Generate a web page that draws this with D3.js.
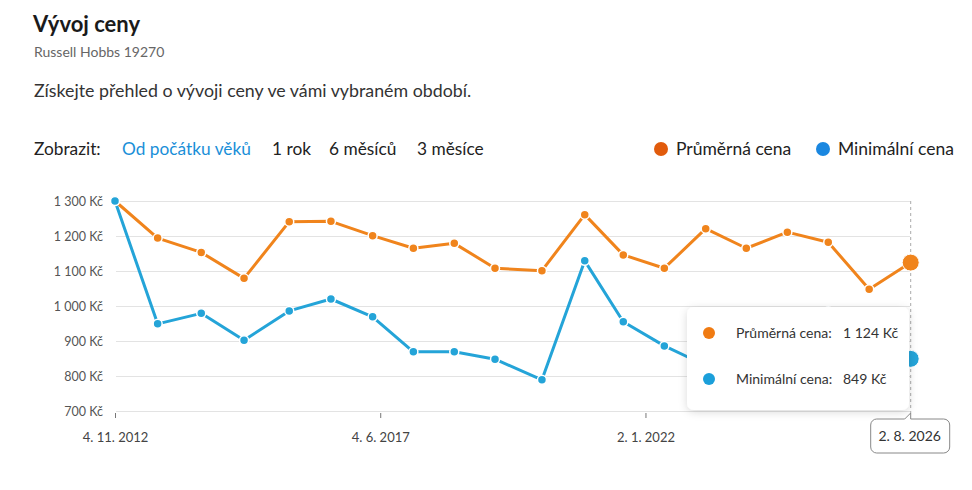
<!DOCTYPE html>
<html>
<head>
<meta charset="utf-8">
<script src="https://cdn.jsdelivr.net/npm/d3@7"></script>
<style>
  body { margin: 0; background: #fff; }
  svg text { font-family: "Source Sans Pro", Lato, "Noto Sans", sans-serif; }
</style>
</head>
<body>
<svg id="chart" width="972" height="490"></svg>
<script>
// price history
const dates = ["2012-11-04","2013-07-31","2014-05-02","2015-01-27","2015-11-08","2016-07-28",
  "2017-04-17","2017-12-30","2018-09-14","2019-05-29","2020-03-20","2020-12-15","2021-08-15",
  "2022-05-01","2023-01-17","2023-09-30","2024-06-15","2025-02-28","2025-11-13","2026-08-02"];
const avgPrice = [1300,1194,1153,1079,1241,1242,1201,1165,1179,1108,1101,1261,1146,1108,1221,1165,1211,1182,1048,1124];
const minPrice = [1300,949,979,902,986,1020,969,869,869,848,789,1129,955,886,830,845,900,985,890,849];
const yTicks = [700,800,900,1000,1100,1200,1300];
const xTicks = ["2012-11-04","2017-06-04","2022-01-02"];
const periods = ["Od počátku věků","1 rok","6 měsíců","3 měsíce"];
const seriesNames = ["Průměrná cena","Minimální cena"];

const parse = d3.timeParse("%Y-%m-%d");
const cz = d3.formatLocale({decimal: ",", thousands: "\u00a0", grouping: [3], currency: ["", "\u00a0Kč"]});
const kc = v => cz.format(",")(v) + "\u00a0Kč";
const dateFmt = d => `${d.getDate()}. ${d.getMonth() + 1}. ${d.getFullYear()}`;

const svg = d3.select("#chart");

// header
svg.append("text").attr("x", 33).attr("y", 32).attr("font-size", 22).attr("font-weight", 700)
  .attr("fill", "#1a1a1a").text("Vývoj ceny");
svg.append("text").attr("x", 34).attr("y", 57).attr("font-size", 14).attr("fill", "#666")
  .text("Russell Hobbs 19270");
svg.append("text").attr("x", 34).attr("y", 97).attr("font-size", 17.8).attr("fill", "#333")
  .text("Získejte přehled o vývoji ceny ve vámi vybraném období.");

// period switch
svg.append("text").attr("x", 34).attr("y", 155).attr("font-size", 17.3).attr("fill", "#222").text("Zobrazit:");
const periodX = [122, 272, 329, 417];
svg.selectAll(".period").data(periods).enter().append("text")
  .attr("class", "period")
  .attr("x", (d, i) => periodX[i]).attr("y", 155).attr("font-size", 17.3)
  .attr("fill", (d, i) => i == 0 ? "#1a8fd8" : "#222")
  .text(d => d);

// legend
const legendColors = ["#e15b0c", "#1a87e0"];
const legendX = [661, 823];
const legend = svg.selectAll(".legend").data(seriesNames).enter().append("g")
  .attr("transform", (d, i) => `translate(${legendX[i]},149)`);
legend.append("circle").attr("r", 7).attr("fill", (d, i) => legendColors[i]);
legend.append("text").attr("x", 15).attr("y", 6).attr("font-size", 17.5).attr("fill", "#222").text(d => d);

// scales
const x = d3.scaleTime().domain([parse(dates[0]), parse(dates[dates.length - 1])]).range([115, 910.7]);
const y = d3.scaleLinear().domain([700, 1300]).range([411, 201]);

// grid + y labels
const yAxis = svg.append("g").attr("transform", "translate(910,0)")
  .call(d3.axisLeft(y).tickValues(yTicks).tickSize(794).tickFormat(kc));
yAxis.select(".domain").remove();
yAxis.selectAll(".tick line").attr("stroke", "#e3e3e3");
yAxis.selectAll(".tick text").attr("font-size", 12.5).attr("fill", "#555").attr("x", -807);

// x axis
const xAxis = svg.append("g").attr("transform", "translate(0,411)")
  .call(d3.axisBottom(x).tickValues(xTicks.map(parse)).tickSize(6).tickPadding(16).tickFormat(dateFmt));
xAxis.select(".domain").remove();
xAxis.selectAll(".tick line").attr("stroke", "#777").attr("y1", 2).attr("y2", 7);
xAxis.selectAll(".tick text").attr("font-size", 13).attr("fill", "#444");

// crosshair
svg.append("line").attr("x1", x(parse(dates[dates.length - 1]))).attr("x2", x(parse(dates[dates.length - 1])))
  .attr("y1", 201).attr("y2", 413).attr("stroke", "#aaa").attr("stroke-dasharray", "3,3");

// series
const lineColors = ["#f0841c", "#24a4d8"];
const series = [avgPrice, minPrice];
const line = d3.line().x(d => x(d.date)).y(d => y(d.value));
series.forEach((vals, s) => {
  const pts = vals.map((v, i) => ({date: parse(dates[i]), value: v}));
  svg.append("path").datum(pts).attr("d", line).attr("fill", "none")
    .attr("stroke", lineColors[s]).attr("stroke-width", 3).attr("stroke-linejoin", "round");
  svg.selectAll(".pt" + s).data(pts.slice(0, -1)).enter().append("circle")
    .attr("cx", d => x(d.date)).attr("cy", d => y(d.value)).attr("r", 4.5)
    .attr("fill", lineColors[s]).attr("stroke", "#fff").attr("stroke-width", 1.5);
  const last = pts[pts.length - 1];
  svg.append("circle").attr("cx", x(last.date)).attr("cy", y(last.value)).attr("r", 8.5)
    .attr("fill", lineColors[s]).attr("stroke", "#fff").attr("stroke-width", 1);
});

// tooltip
const defs = svg.append("defs");
const f = defs.append("filter").attr("id", "shadow").attr("x", "-20%").attr("y", "-20%").attr("width", "140%").attr("height", "140%");
f.append("feDropShadow").attr("dx", 0).attr("dy", 2).attr("stdDeviation", 4).attr("flood-color", "#000").attr("flood-opacity", 0.15);

const tip = svg.append("g").attr("transform", "translate(687,307)");
tip.append("rect").attr("width", 222).attr("height", 103).attr("rx", 7)
  .attr("fill", "#fff").attr("filter", "url(#shadow)");
const tipColors = ["#f07b12", "#1b9fda"];
const lastVals = series.map(v => v[v.length - 1]);
const rows = tip.selectAll(".row").data(seriesNames).enter().append("g")
  .attr("transform", (d, i) => `translate(0,${26 + i * 46})`);
rows.append("circle").attr("cx", 22).attr("r", 6).attr("fill", (d, i) => tipColors[i]);
rows.append("text").attr("x", 49).attr("y", 5).attr("font-size", 14).attr("fill", "#333").text(d => d + ":");
rows.append("text").attr("x", 156).attr("y", 5).attr("font-size", 14).attr("fill", "#333").text((d, i) => kc(lastVals[i]));

// date flag
const lx = x(parse(dates[dates.length - 1]));
const flag = svg.append("g");
flag.append("path")
  .attr("d", `M${lx - 34},419 H${lx - 6} L${lx},413 L${lx},419 H${lx + 33} a6,6 0 0 1 6,6 V447 a6,6 0 0 1 -6,6 H${lx - 34} a6,6 0 0 1 -6,-6 V425 a6,6 0 0 1 6,-6 Z`)
  .attr("fill", "#fff").attr("stroke", "#888").attr("stroke-width", 1);
flag.append("text").attr("x", lx - 1).attr("y", 441).attr("text-anchor", "middle")
  .attr("font-size", 14).attr("fill", "#333").text(dateFmt(parse(dates[dates.length - 1])));
</script>
</body>
</html>
